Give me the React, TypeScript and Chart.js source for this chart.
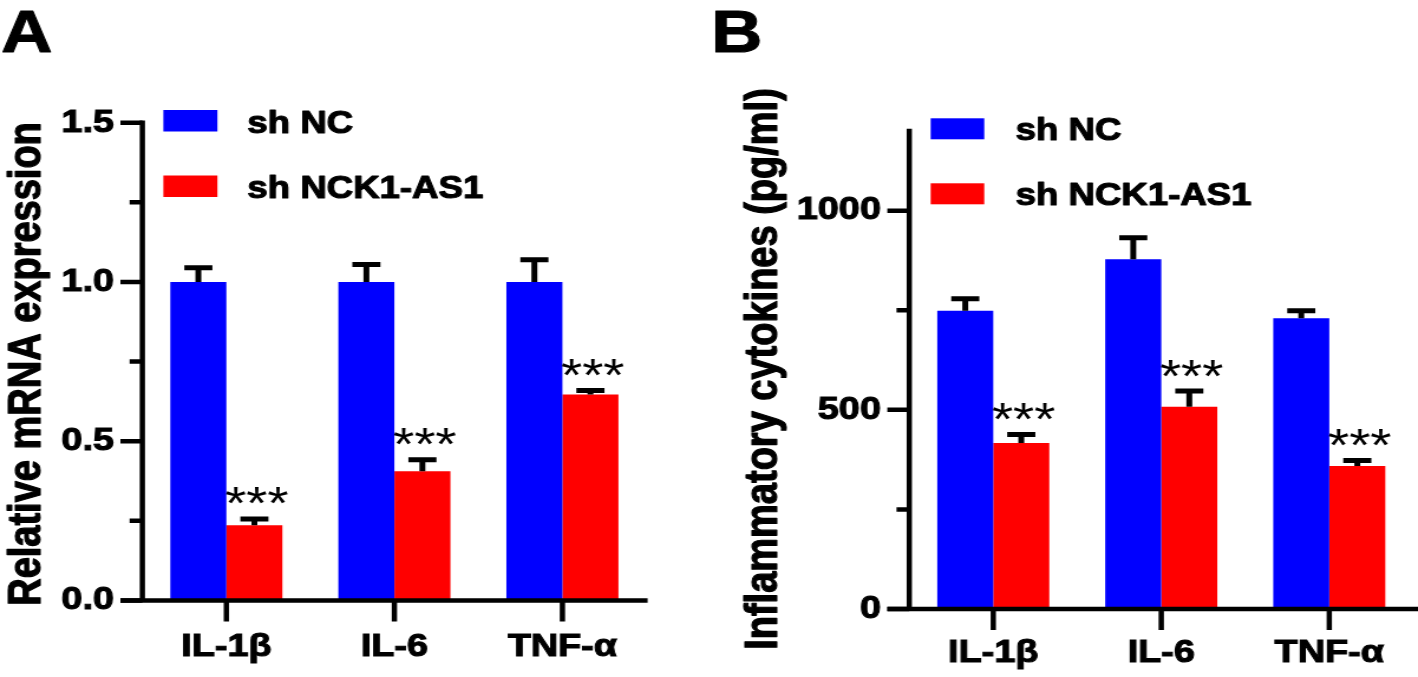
import React, { useEffect, useRef } from 'react';
import { Chart, registerables } from 'chart.js';

Chart.register(...registerables);

// ---------------- data ----------------
const categories = ['IL-1β', 'IL-6', 'TNF-α'];
const seriesNames = ['sh NC', 'sh NCK1-AS1'];
const seriesColors = ['#0000FF', '#FF0000'];

const mrnaShNC = [1.0, 1.0, 1.0];
const mrnaShNCErr = [0.045, 0.055, 0.07];
const mrnaShNCK1AS1 = [0.236, 0.406, 0.647];
const mrnaShNCK1AS1Err = [0.02, 0.036, 0.012];
const mrnaTicks = [0, 0.25, 0.5, 0.75, 1.0, 1.25, 1.5];
const mrnaTickLabels = ['0.0', '', '0.5', '', '1.0', '', '1.5'];

const cytoShNC = [749, 878, 730];
const cytoShNCErr = [30, 54, 19];
const cytoShNCK1AS1 = [417, 508, 359];
const cytoShNCK1AS1Err = [21, 39, 14];
const cytoTicks = [0, 250, 500, 750, 1000];
const cytoTickLabels = ['0', '', '500', '', '1000'];

const significance = ['***', '***', '***'];

// ---------------- layout / style ----------------
const FONT = '"Liberation Sans", Arial, Helvetica, sans-serif';
const H = 677;
const TEXT_STROKE = 1.1;

type Spec = {
  letter: string;
  letterX: number;
  title: string;
  titleX: number;
  titleY: number;
  titleSize: number;
  cssLeft: number;
  cssWidth: number;
  intWidth: number;
  plotLeft: number;
  padRight: number;
  plotTop: number;
  xAxisH: number;
  yMax: number;
  ticks: number[];
  tickLabels: string[];
  values: number[][];
  errors: number[][];
  legendX: number;
  legendW: number;
  legendTop: number[];
  legendH: number;
  legendTextX: number;
  legendBaseline: number[];
  xExtend: number;
  xLabelPad: number;
};

const specA: Spec = {
  letter: 'A',
  letterX: 1,
  title: 'Relative mRNA expression',
  titleX: 33.9,
  titleY: 364,
  titleSize: 38,
  cssLeft: 0,
  cssWidth: 700,
  intWidth: 593,
  plotLeft: 120.6,
  padRight: 45.4,
  plotTop: 122.7,
  xAxisH: 76.5,
  yMax: 1.5,
  ticks: mrnaTicks,
  tickLabels: mrnaTickLabels,
  values: [mrnaShNC, mrnaShNCK1AS1],
  errors: [mrnaShNCErr, mrnaShNCK1AS1Err],
  legendX: 138.4,
  legendW: 45.8,
  legendTop: [110, 175.5],
  legendH: 21.5,
  legendTextX: 209.6,
  legendBaseline: [133.3, 197.5],
  xExtend: 1,
  xLabelPad: 27,
};

const specB: Spec = {
  letter: 'B',
  letterX: 9.5,
  title: 'Inflammatory cytokines (pg/ml)',
  titleX: 65,
  titleY: 369,
  titleSize: 38,
  cssLeft: 700,
  cssWidth: 718,
  intWidth: 608,
  plotLeft: 177.2,
  padRight: 4,
  plotTop: 131,
  xAxisH: 68,
  yMax: 1200,
  ticks: cytoTicks,
  tickLabels: cytoTickLabels,
  values: [cytoShNC, cytoShNCK1AS1],
  errors: [cytoShNCErr, cytoShNCK1AS1Err],
  legendX: 195.3,
  legendW: 45.4,
  legendTop: [118.3, 183.3],
  legendH: 21,
  legendTextX: 267.2,
  legendBaseline: [140, 205],
  xExtend: 6,
  xLabelPad: 25,
};

function heavyText(ctx: CanvasRenderingContext2D, text: string, x: number, y: number) {
  ctx.fillText(text, x, y);
  ctx.lineWidth = TEXT_STROKE;
  ctx.lineJoin = 'round';
  ctx.strokeText(text, x, y);
}

function makeConfig(spec: Spec): any {
  const tickFont = { family: FONT, size: 32, weight: 'bold' as const };

  const gpPlugin = {
    id: 'gpDecor',
    afterDatasetsDraw(chart: any) {
      const { ctx, chartArea: ca, scales } = chart;
      const y = scales.y;
      const x = scales.x;
      ctx.save();
      ctx.strokeStyle = '#000';
      ctx.fillStyle = '#000';
      ctx.lineCap = 'butt';

      // error bars
      ctx.lineWidth = 5;
      chart.data.datasets.forEach((ds: any, di: number) => {
        const meta = chart.getDatasetMeta(di);
        meta.data.forEach((el: any, j: number) => {
          const v = ds.data[j];
          const e = spec.errors[di][j];
          const yTop = y.getPixelForValue(v + e);
          ctx.beginPath();
          ctx.moveTo(el.x, el.y);
          ctx.lineTo(el.x, yTop);
          ctx.moveTo(el.x - 11.9, yTop);
          ctx.lineTo(el.x + 11.9, yTop);
          ctx.stroke();
        });
      });

      // significance stars above second series
      ctx.font = `46px ${FONT}`;
      ctx.textAlign = 'center';
      ctx.textBaseline = 'alphabetic';
      const meta1 = chart.getDatasetMeta(1);
      meta1.data.forEach((el: any, j: number) => {
        const v = chart.data.datasets[1].data[j];
        const e = spec.errors[1][j];
        const yTop = y.getPixelForValue(v + e);
        const m = ctx.measureText(significance[j]);
        const bottom = yTop - 2.5 - 12;
        ctx.fillText(significance[j], el.x + 2, bottom - m.actualBoundingBoxDescent);
      });

      // axes
      ctx.lineWidth = 4.5;
      ctx.beginPath();
      ctx.moveTo(ca.left, ca.top - 2.25);
      ctx.lineTo(ca.left, ca.bottom);
      ctx.moveTo(ca.left - 18.6, ca.bottom);
      ctx.lineTo(ca.right + spec.xExtend, ca.bottom);
      ctx.stroke();

      ctx.beginPath();
      y.ticks.forEach((t: any) => {
        const py = y.getPixelForValue(t.value);
        const len = t.label !== '' ? 18.6 : 10.8;
        ctx.moveTo(ca.left - len, py);
        ctx.lineTo(ca.left, py);
      });
      categories.forEach((_c, i) => {
        const px = x.getPixelForValue(i);
        ctx.moveTo(px, ca.bottom);
        ctx.lineTo(px, ca.bottom + 21);
      });
      ctx.stroke();

      // legend
      chart.data.datasets.forEach((ds: any, di: number) => {
        ctx.fillStyle = ds.backgroundColor;
        ctx.fillRect(spec.legendX, spec.legendTop[di], spec.legendW, spec.legendH);
        ctx.fillStyle = '#000';
        ctx.font = `bold 31px ${FONT}`;
        ctx.textAlign = 'left';
        ctx.textBaseline = 'alphabetic';
        heavyText(ctx, ds.label, spec.legendTextX, spec.legendBaseline[di]);
      });

      // panel letter
      ctx.font = `bold 60px ${FONT}`;
      ctx.textAlign = 'left';
      heavyText(ctx, spec.letter, spec.letterX, 51.7);

      // y-axis title
      ctx.save();
      ctx.translate(spec.titleX, spec.titleY);
      ctx.rotate(-Math.PI / 2);
      ctx.font = `bold ${spec.titleSize}px ${FONT}`;
      ctx.textAlign = 'center';
      ctx.textBaseline = 'alphabetic';
      heavyText(ctx, spec.title, 0, 0);
      ctx.restore();

      ctx.restore();
    },
  };

  return {
    type: 'bar',
    data: {
      labels: categories,
      datasets: seriesNames.map((name, i) => ({
        label: name,
        data: spec.values[i],
        backgroundColor: seriesColors[i],
        borderWidth: 0,
        categoryPercentage: 0.667,
        barPercentage: 1.0,
      })),
    },
    options: {
      animation: false,
      responsive: false,
      maintainAspectRatio: false,
      devicePixelRatio: 1,
      events: [],
      layout: {
        padding: { left: 0, top: spec.plotTop, right: spec.padRight, bottom: 0 },
      },
      plugins: {
        legend: { display: false },
        tooltip: { enabled: false },
        title: { display: false },
      },
      scales: {
        x: {
          type: 'category',
          offset: true,
          grid: { display: false, drawTicks: false },
          border: { display: false },
          ticks: {
            font: tickFont,
            color: '#000',
            textStrokeColor: '#000',
            textStrokeWidth: TEXT_STROKE,
            padding: spec.xLabelPad,
            autoSkip: false,
            maxRotation: 0,
            minRotation: 0,
          },
          afterFit: (s: any) => {
            s.height = spec.xAxisH;
          },
        },
        y: {
          type: 'linear',
          min: 0,
          max: spec.yMax,
          grid: { display: false, drawTicks: false },
          border: { display: false },
          afterBuildTicks: (s: any) => {
            s.ticks = spec.ticks.map((v) => ({ value: v }));
          },
          ticks: {
            font: tickFont,
            color: '#000',
            textStrokeColor: '#000',
            textStrokeWidth: TEXT_STROKE,
            padding: 24,
            autoSkip: false,
            callback: (v: any) => {
              const idx = spec.ticks.indexOf(Number(v));
              return idx >= 0 ? spec.tickLabels[idx] : '';
            },
          },
          afterFit: (s: any) => {
            s.width = spec.plotLeft;
          },
        },
      },
    },
    plugins: [gpPlugin],
  };
}

function Panel({ spec }: { spec: Spec }) {
  const ref = useRef<HTMLCanvasElement>(null);
  useEffect(() => {
    const chart = new Chart(ref.current as HTMLCanvasElement, makeConfig(spec));
    return () => chart.destroy();
  }, [spec]);
  return (
    <canvas
      ref={ref}
      width={spec.intWidth}
      height={H}
      style={{
        position: 'absolute',
        left: spec.cssLeft,
        top: 0,
        width: `${spec.cssWidth}px`,
        height: `${H}px`,
      }}
    />
  );
}

export default function App() {
  return (
    <div
      style={{
        position: 'absolute',
        left: 0,
        top: 0,
        width: 1418,
        height: H,
        background: '#ffffff',
        overflow: 'hidden',
      }}
    >
      <Panel spec={specA} />
      <Panel spec={specB} />
    </div>
  );
}
